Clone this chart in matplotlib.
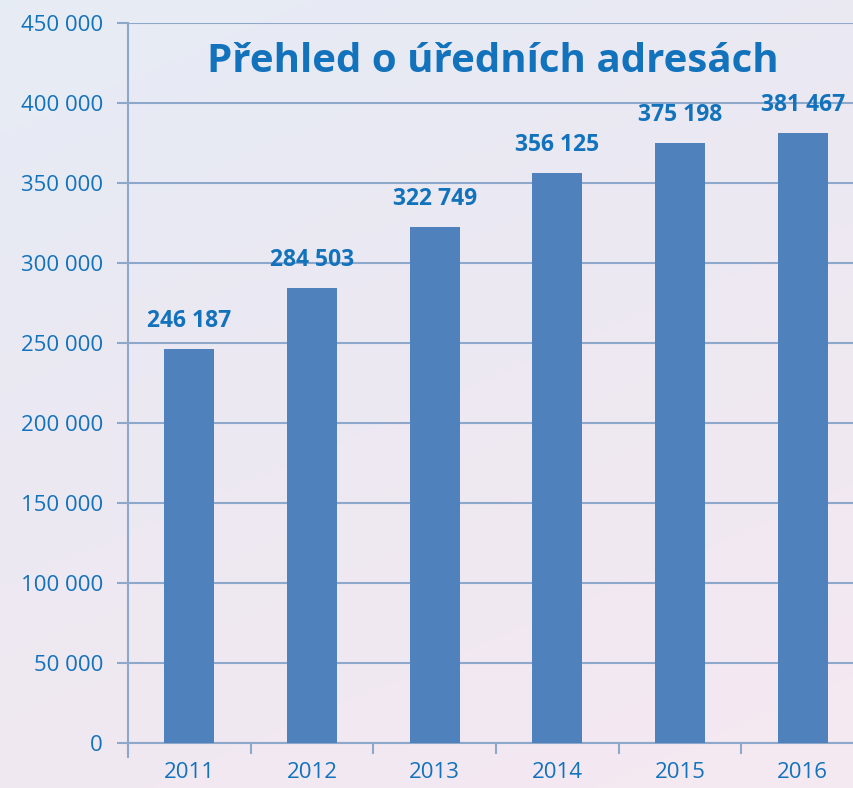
import numpy as np
import matplotlib
matplotlib.use("Agg")
import matplotlib.pyplot as plt
from matplotlib.colors import LinearSegmentedColormap

years = ["2011", "2012", "2013", "2014", "2015", "2016"]
values = [246187, 284503, 322749, 356125, 375198, 381467]
yticks = [0, 50000, 100000, 150000, 200000, 250000, 300000, 350000, 400000, 450000]
title = "Přehled o úředních adresách"

def fmt(v):
    return f"{v:,}".replace(",", " ")

W, H = 854, 788
fig = plt.figure(figsize=(W / 100, H / 100), dpi=100)

# background gradient
bg = fig.add_axes([0, 0, 1, 1], zorder=-10)
yy, xx = np.mgrid[0:1:200j, 0:1:200j]
t = np.clip(0.75 * yy + 0.35 * xx, 0, 1)
cmap = LinearSegmentedColormap.from_list("bg", ["#E6ECF5", "#ECE8F2", "#F4E9F1"])
bg.imshow(t, cmap=cmap, aspect="auto", extent=[0, 1, 0, 1], origin="upper")
bg.axis("off")

ax = fig.add_axes([128 / W, 1 - 743 / H, 736 / W, 720 / H])
ax.patch.set_alpha(0)
txt = "#1372BC"
grid = "#8EA8CC"
x = np.arange(len(years))
ax.bar(x, values, width=0.41, color="#4F81BD", zorder=3)
ax.set_xlim(-0.5, len(years) - 0.5)
ax.set_ylim(0, 450000)
ax.set_yticks(yticks)
ax.set_yticklabels([fmt(v) for v in yticks], fontsize=16, color=txt, family="Open Sans")
ax.set_xticks(x)
ax.set_xticklabels(years, fontsize=16, color=txt, family="Open Sans")
ax.set_xticks(np.arange(len(years) + 1) - 0.5, minor=True)
ax.tick_params(axis="x", which="major", length=0, pad=14)
ax.tick_params(axis="x", which="minor", length=8, width=1.5, color=grid)
ax.tick_params(axis="y", length=8, width=1.5, color=grid, pad=10)
for y in yticks:
    ax.axhline(y, color=grid, lw=1.5, zorder=1)
for s in ["top", "right"]:
    ax.spines[s].set_visible(False)
for s in ["left", "bottom"]:
    ax.spines[s].set_color(grid)
    ax.spines[s].set_linewidth(1.5)
ax.spines["left"].set_bounds(-9000, 450000)

for xi, v in zip(x, values):
    ax.text(xi, v + 10000, fmt(v), ha="center", va="bottom", fontsize=16.5,
            fontweight="bold", color=txt, family="Open Sans")

fig.text(493 / W, 1 - 61 / H, title, ha="center", va="center", fontsize=29,
         fontweight="bold", color=txt, family="Open Sans")

fig.savefig("out.png", dpi=100)
